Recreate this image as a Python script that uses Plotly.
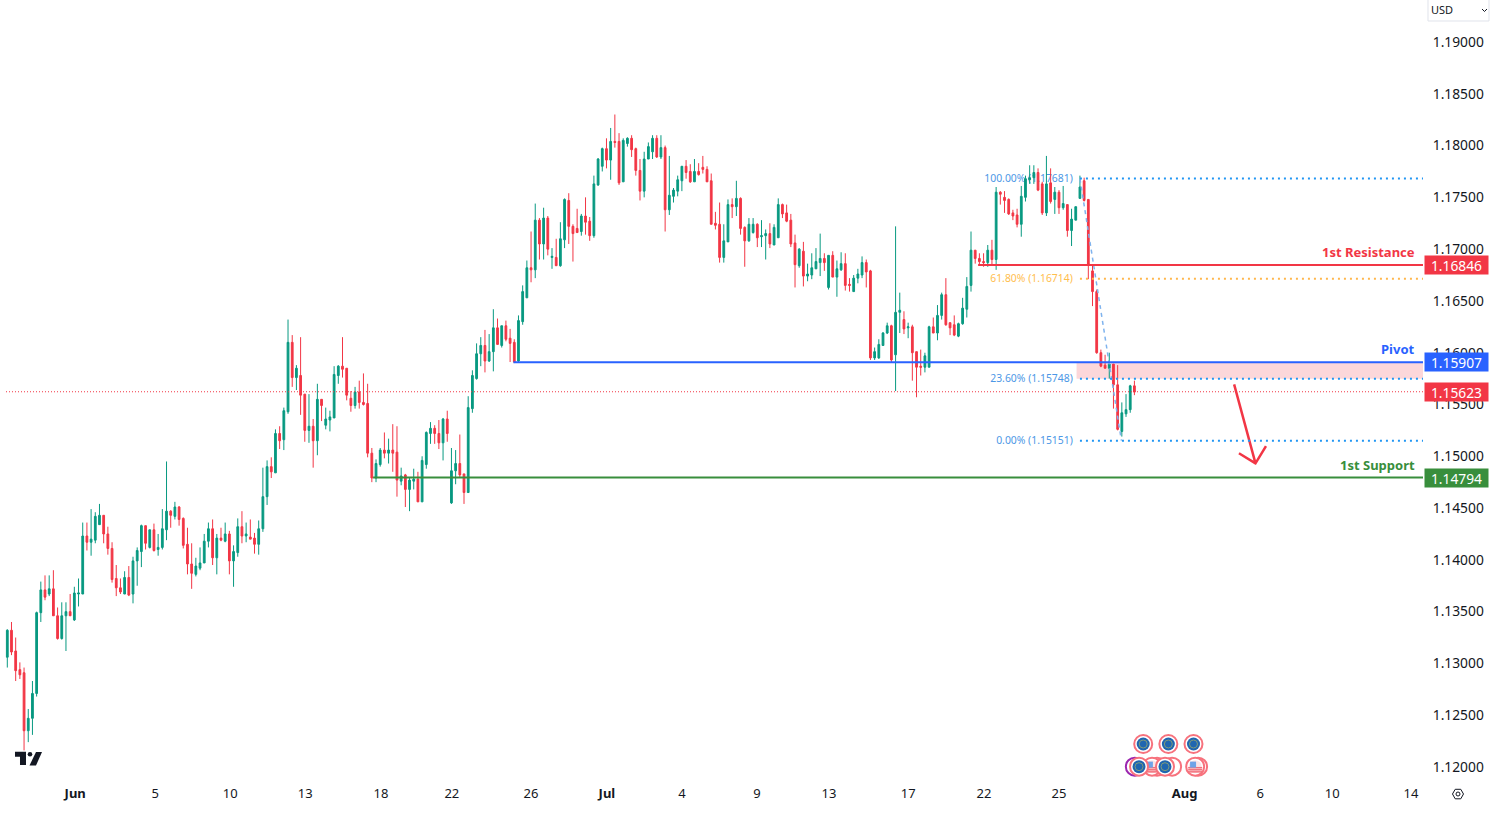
import plotly.graph_objects as go

# EURUSD 4h candles
highs = [
    1.1333,1.1340,1.1325,1.1301,1.1296,1.1256,1.1283,1.1350,1.1379,1.1385,
    1.1385,1.1390,1.1354,1.1359,1.1359,1.1367,1.1374,1.1382,1.1436,1.1436,
    1.1449,1.1446,1.1454,1.1443,1.1432,1.1417,1.1395,1.1382,1.1389,1.1394,
    1.1403,1.1412,1.1434,1.1433,1.1429,1.1435,1.1425,1.1449,1.1495,1.1448,
    1.1456,1.1452,1.1441,1.1431,1.1416,1.1402,1.1412,1.1425,1.1436,1.1439,
    1.1425,1.1431,1.1436,1.1428,1.1414,1.1440,1.1447,1.1436,1.1439,1.1426,
    1.1438,1.1489,1.1496,1.1499,1.1526,1.1529,1.1547,1.1632,1.1617,1.1588,
    1.1615,1.1560,1.1560,1.1536,1.1570,1.1555,1.1547,1.1544,1.1587,1.1588,
    1.1615,1.1585,1.1563,1.1567,1.1573,1.1580,1.1570,1.1508,1.1497,1.1508,
    1.1523,1.1517,1.1531,1.1529,1.1489,1.1483,1.1480,1.1488,1.1485,1.1500,
    1.1524,1.1533,1.1530,1.1535,1.1537,1.1544,1.1508,1.1506,1.1521,1.1483,
    1.1558,1.1583,1.1609,1.1615,1.1622,1.1618,1.1642,1.1633,1.1626,1.1631,
    1.1623,1.1613,1.1636,1.1665,1.1689,1.1717,1.1744,1.1730,1.1740,1.1732,
    1.1701,1.1710,1.1726,1.1749,1.1754,1.1724,1.1739,1.1734,1.1750,1.1731,
    1.1771,1.1788,1.1798,1.1807,1.1817,1.1830,1.1812,1.1807,1.1808,1.1810,
    1.1798,1.1787,1.1794,1.1803,1.1810,1.1810,1.1810,1.1800,1.1790,1.1759,
    1.1771,1.1780,1.1786,1.1782,1.1787,1.1783,1.1790,1.1780,1.1773,1.1736,
    1.1745,1.1724,1.1748,1.1749,1.1766,1.1750,1.1722,1.1730,1.1730,1.1725,
    1.1728,1.1719,1.1725,1.1724,1.1749,1.1744,1.1743,1.1734,1.1714,1.1701,
    1.1707,1.1686,1.1696,1.1701,1.1715,1.1696,1.1694,1.1698,1.1689,1.1697,
    1.1696,1.1672,1.1675,1.1681,1.1693,1.1690,1.1680,1.1605,1.1613,1.1620,
    1.1629,1.1627,1.1722,1.1658,1.1640,1.1629,1.1627,1.1601,1.1603,1.1600,
    1.1626,1.1634,1.1646,1.1658,1.1672,1.1629,1.1636,1.1629,1.1653,1.1673,
    1.1717,1.1699,1.1696,1.1696,1.1704,1.1709,1.1760,1.1756,1.1756,1.1749,
    1.1738,1.1739,1.1761,1.1771,1.1781,1.1781,1.1778,1.1765,1.1790,1.1778,
    1.1760,1.1757,1.1761,1.1743,1.1739,1.1741,1.1771,1.1769,1.1748,1.1685,
    1.1661,1.1603,1.1598,1.1600,1.1589,1.1588,1.1552,1.1560,1.1569,1.1573,
]
lows = [
    1.1296,1.1308,1.1283,1.1285,1.1216,1.1224,1.1231,1.1268,1.1340,1.1361,
    1.1365,1.1346,1.1323,1.1323,1.1312,1.1346,1.1341,1.1355,1.1367,1.1409,
    1.1404,1.1416,1.1434,1.1416,1.1405,1.1378,1.1365,1.1367,1.1367,1.1365,
    1.1358,1.1375,1.1393,1.1410,1.1411,1.1408,1.1404,1.1410,1.1419,1.1431,
    1.1439,1.1433,1.1411,1.1386,1.1372,1.1384,1.1390,1.1397,1.1412,1.1395,
    1.1386,1.1418,1.1417,1.1386,1.1374,1.1403,1.1416,1.1417,1.1420,1.1406,
    1.1405,1.1427,1.1453,1.1479,1.1484,1.1507,1.1506,1.1541,1.1567,1.1564,
    1.1540,1.1514,1.1513,1.1489,1.1501,1.1534,1.1526,1.1524,1.1537,1.1570,
    1.1576,1.1554,1.1543,1.1546,1.1546,1.1549,1.1499,1.1475,1.1475,1.1490,
    1.1498,1.1493,1.1485,1.1461,1.1472,1.1451,1.1447,1.1468,1.1456,1.1456,
    1.1488,1.1512,1.1512,1.1507,1.1496,1.1514,1.1454,1.1473,1.1480,1.1454,
    1.1465,1.1542,1.1574,1.1587,1.1581,1.1591,1.1582,1.1608,1.1605,1.1611,
    1.1591,1.1590,1.1591,1.1627,1.1653,1.1668,1.1672,1.1690,1.1690,1.1694,
    1.1681,1.1684,1.1683,1.1701,1.1705,1.1688,1.1716,1.1713,1.1714,1.1708,
    1.1711,1.1761,1.1775,1.1778,1.1767,1.1798,1.1762,1.1765,1.1799,1.1789,
    1.1771,1.1747,1.1750,1.1787,1.1787,1.1788,1.1787,1.1717,1.1733,1.1745,
    1.1751,1.1756,1.1768,1.1764,1.1765,1.1771,1.1773,1.1765,1.1724,1.1719,
    1.1687,1.1687,1.1707,1.1730,1.1732,1.1714,1.1683,1.1707,1.1715,1.1702,
    1.1702,1.1690,1.1701,1.1704,1.1711,1.1730,1.1726,1.1702,1.1663,1.1682,
    1.1664,1.1669,1.1671,1.1681,1.1674,1.1679,1.1661,1.1673,1.1654,1.1679,
    1.1660,1.1659,1.1659,1.1667,1.1672,1.1663,1.1593,1.1593,1.1594,1.1607,
    1.1618,1.1591,1.1563,1.1619,1.1618,1.1614,1.1573,1.1557,1.1578,1.1581,
    1.1586,1.1619,1.1612,1.1632,1.1626,1.1617,1.1616,1.1615,1.1627,1.1634,
    1.1659,1.1686,1.1684,1.1683,1.1683,1.1685,1.1680,1.1743,1.1735,1.1733,
    1.1728,1.1721,1.1712,1.1746,1.1763,1.1763,1.1756,1.1733,1.1732,1.1744,
    1.1734,1.1734,1.1738,1.1712,1.1703,1.1728,1.1749,1.1746,1.1671,1.1645,
    1.1599,1.1586,1.1585,1.1575,1.1546,1.1525,1.1519,1.1538,1.1542,1.1559,
]
opens = [
    1.1306,1.1332,1.1312,1.1294,1.1291,1.1235,1.1247,1.1271,1.1349,1.1371,
    1.1367,1.1372,1.1346,1.1324,1.1346,1.1350,1.1342,1.1367,1.1367,1.1423,
    1.1417,1.1419,1.1434,1.1443,1.1425,1.1411,1.1382,1.1373,1.1367,1.1383,
    1.1367,1.1399,1.1408,1.1433,1.1412,1.1429,1.1410,1.1412,1.1429,1.1447,
    1.1442,1.1451,1.1440,1.1415,1.1396,1.1386,1.1392,1.1397,1.1418,1.1430,
    1.1402,1.1421,1.1418,1.1425,1.1399,1.1407,1.1432,1.1423,1.1422,1.1421,
    1.1415,1.1430,1.1461,1.1490,1.1484,1.1522,1.1516,1.1543,1.1610,1.1576,
    1.1578,1.1560,1.1525,1.1529,1.1515,1.1555,1.1530,1.1535,1.1537,1.1578,
    1.1587,1.1585,1.1556,1.1549,1.1562,1.1552,1.1551,1.1503,1.1479,1.1492,
    1.1506,1.1503,1.1506,1.1504,1.1476,1.1482,1.1468,1.1476,1.1478,1.1456,
    1.1492,1.1522,1.1527,1.1522,1.1513,1.1536,1.1455,1.1486,1.1493,1.1483,
    1.1465,1.1546,1.1575,1.1599,1.1607,1.1592,1.1601,1.1624,1.1607,1.1626,
    1.1614,1.1610,1.1592,1.1630,1.1653,1.1682,1.1680,1.1728,1.1705,1.1730,
    1.1692,1.1692,1.1684,1.1709,1.1747,1.1722,1.1720,1.1717,1.1732,1.1727,
    1.1713,1.1762,1.1780,1.1797,1.1786,1.1804,1.1804,1.1765,1.1802,1.1807,
    1.1797,1.1776,1.1756,1.1787,1.1794,1.1807,1.1789,1.1798,1.1738,1.1751,
    1.1756,1.1766,1.1780,1.1775,1.1765,1.1775,1.1779,1.1777,1.1766,1.1725,
    1.1724,1.1692,1.1707,1.1743,1.1741,1.1749,1.1721,1.1708,1.1716,1.1724,
    1.1712,1.1713,1.1715,1.1704,1.1711,1.1743,1.1735,1.1728,1.1706,1.1684,
    1.1698,1.1674,1.1675,1.1681,1.1687,1.1691,1.1663,1.1694,1.1673,1.1680,
    1.1686,1.1666,1.1659,1.1672,1.1675,1.1687,1.1679,1.1595,1.1595,1.1607,
    1.1619,1.1626,1.1598,1.1639,1.1632,1.1624,1.1625,1.1601,1.1587,1.1586,
    1.1586,1.1625,1.1619,1.1636,1.1656,1.1629,1.1627,1.1616,1.1628,1.1642,
    1.1665,1.1699,1.1691,1.1688,1.1687,1.1699,1.1690,1.1755,1.1750,1.1748,
    1.1735,1.1733,1.1724,1.1750,1.1767,1.1769,1.1774,1.1763,1.1735,1.1764,
    1.1748,1.1755,1.1740,1.1743,1.1718,1.1728,1.1749,1.1766,1.1748,1.1679,
    1.1659,1.1600,1.1588,1.1585,1.1589,1.1569,1.1524,1.1541,1.1545,1.1568,
]
closes = [
    1.1332,1.1311,1.1293,1.1289,1.1235,1.1247,1.1271,1.1349,1.1371,1.1364,
    1.1372,1.1346,1.1324,1.1346,1.1350,1.1346,1.1368,1.1368,1.1423,1.1417,
    1.1420,1.1442,1.1443,1.1425,1.1411,1.1381,1.1373,1.1369,1.1383,1.1366,
    1.1399,1.1409,1.1433,1.1416,1.1429,1.1409,1.1412,1.1430,1.1447,1.1443,
    1.1451,1.1439,1.1414,1.1396,1.1387,1.1394,1.1397,1.1418,1.1430,1.1402,
    1.1421,1.1419,1.1425,1.1399,1.1408,1.1432,1.1423,1.1425,1.1420,1.1415,
    1.1430,1.1461,1.1490,1.1485,1.1522,1.1515,1.1544,1.1610,1.1576,1.1585,
    1.1559,1.1525,1.1529,1.1515,1.1555,1.1549,1.1536,1.1538,1.1579,1.1587,
    1.1584,1.1559,1.1549,1.1562,1.1552,1.1550,1.1503,1.1479,1.1493,1.1506,
    1.1503,1.1506,1.1503,1.1477,1.1481,1.1468,1.1477,1.1478,1.1456,1.1496,
    1.1523,1.1527,1.1522,1.1513,1.1536,1.1522,1.1486,1.1493,1.1482,1.1465,
    1.1547,1.1578,1.1599,1.1607,1.1592,1.1601,1.1624,1.1608,1.1626,1.1613,
    1.1609,1.1591,1.1631,1.1659,1.1682,1.1680,1.1728,1.1705,1.1730,1.1700,
    1.1693,1.1684,1.1710,1.1748,1.1722,1.1715,1.1716,1.1732,1.1726,1.1713,
    1.1763,1.1787,1.1797,1.1786,1.1804,1.1803,1.1764,1.1805,1.1807,1.1796,
    1.1776,1.1756,1.1787,1.1799,1.1807,1.1789,1.1798,1.1738,1.1752,1.1757,
    1.1767,1.1780,1.1774,1.1765,1.1775,1.1772,1.1777,1.1765,1.1724,1.1723,
    1.1692,1.1708,1.1743,1.1741,1.1749,1.1720,1.1708,1.1724,1.1724,1.1711,
    1.1713,1.1715,1.1705,1.1721,1.1743,1.1734,1.1727,1.1705,1.1685,1.1700,
    1.1674,1.1676,1.1682,1.1688,1.1691,1.1687,1.1694,1.1673,1.1681,1.1686,
    1.1665,1.1665,1.1672,1.1676,1.1687,1.1678,1.1595,1.1601,1.1608,1.1619,
    1.1626,1.1593,1.1639,1.1641,1.1623,1.1625,1.1600,1.1586,1.1586,1.1597,
    1.1625,1.1619,1.1636,1.1656,1.1627,1.1624,1.1617,1.1628,1.1643,1.1664,
    1.1699,1.1691,1.1688,1.1687,1.1699,1.1690,1.1755,1.1753,1.1747,1.1734,
    1.1732,1.1724,1.1751,1.1768,1.1769,1.1774,1.1757,1.1735,1.1763,1.1746,
    1.1755,1.1740,1.1744,1.1718,1.1729,1.1741,1.1760,1.1747,1.1685,1.1659,
    1.1600,1.1587,1.1585,1.1589,1.1569,1.1526,1.1542,1.1545,1.1568,1.1562,
]

date_ticks = [16.2, 35.3, 53.2, 71.1, 89.2, 106.1, 125, 143.1, 161, 178.9, 196.1, 215, 233.1, 251, 281, 299, 316.2, 335]
date_labels = ["<b>Jun</b>", "5", "10", "13", "18", "22", "26", "<b>Jul</b>", "4", "9", "13", "17", "22", "25", "<b>Aug</b>", "6", "10", "14"]
price_ticks = [1.12, 1.125, 1.13, 1.135, 1.14, 1.145, 1.15, 1.155, 1.16, 1.165, 1.17, 1.175, 1.18, 1.185, 1.19]

resistance = 1.16846
pivot = 1.15907
support = 1.14794
last_price = 1.15623
resistance_start = 231.7
pivot_start = 120.8
support_start = 87.3
last_price_start = -0.31

fib_start = 256
fib_end = 265.9
fib_label_x = 254.3
fib_levels = [1.17681, 1.16714, 1.15748, 1.15151]
fib_labels = ["100.00% (1.17681)", "61.80% (1.16714)", "23.60% (1.15748)", "0.00% (1.15151)"]
fib_colors = ["#4C97E6", "#FFBE4D", "#4C97E6", "#4C97E6"]

arrow_x = [292.8, 297.9, 293.95, 297.9, 300.4]
arrow_y = [1.15695, 1.14932, 1.15029, 1.14932, 1.15099]

# economic calendar badges, back to front
event_x = [271.1, 277.1, 283.1, 269.1, 274.4, 273.2, 270.1, 278.0, 276.3, 284.2, 283.5]
event_y = [1.12222, 1.12222, 1.12222, 1.12003, 1.12003, 1.12003, 1.12003, 1.12003, 1.12003, 1.12003, 1.12003]
event_kind = ["eu", "eu", "eu", "ring", "us", "us", "eu", "ring_red", "eu", "ring_red", "us"]

GREEN = "#089981"
RED = "#F23645"
BLUE = "#2962FF"
DARK_GREEN = "#388E3C"
TEXT = "#131722"
FONT = "Noto Sans"

W_PLOT = 1423
H_PLOT = 780
x_range = [-7.3 / 4.19, (W_PLOT - 7.3) / 4.19]
y_range = [1.19 - (H_PLOT - 42) / 10357, 1.19 + 42 / 10357]


def px(x):
    return x / W_PLOT


def py(y):
    return 1 - y / H_PLOT


def poly(points, close=True):
    path = "M " + " L ".join(f"{px(a):.5f},{py(b):.5f}" for a, b in points)
    return path + (" Z" if close else "")


def badge_marker(x, y, **marker):
    return go.Scatter(x=[x], y=[y], mode="markers", xaxis="x2", yaxis="y2",
                      hoverinfo="skip", marker=marker)


fig = go.Figure()

# fib texts sit on the base axes so that the candles cover them
fig.add_trace(go.Scatter(
    x=[fib_label_x] * 4, y=[v - 0.0001 for v in fib_levels], text=fib_labels, mode="text",
    textposition="middle left", textfont=dict(size=10.4, color=fib_colors, family=FONT),
    hoverinfo="skip",
))

fig.add_trace(go.Candlestick(
    x=list(range(len(opens))), open=opens, high=highs, low=lows, close=closes,
    xaxis="x2", yaxis="y2", whiskerwidth=0,
    increasing=dict(line=dict(color=GREEN, width=1), fillcolor=GREEN),
    decreasing=dict(line=dict(color=RED, width=1), fillcolor=RED),
))

fig.add_trace(go.Scatter(
    x=arrow_x, y=arrow_y, mode="lines", xaxis="x2", yaxis="y2",
    line=dict(color=RED, width=2.5), hoverinfo="skip",
))

for ex, ey, kind in zip(event_x, event_y, event_kind):
    ring = "#9C27B0" if kind == "ring" else "#F7727D"
    fig.add_trace(badge_marker(ex, ey, size=18, color="white", line=dict(color=ring, width=2)))
    if kind == "eu":
        fig.add_trace(badge_marker(ex, ey, size=13, color="#1F66B0"))
        fig.add_trace(badge_marker(ex, ey, size=8, color="rgba(0,0,0,0)",
                                   line=dict(color="#7F9A7A", width=1)))
    elif kind == "us":
        fig.add_trace(badge_marker(ex, ey, size=13, color="#FBE3E5"))
        for off in (-0.0001, -0.0003, -0.0005):
            fig.add_trace(badge_marker(ex, ey + off, size=10, symbol="line-ew",
                                       line=dict(color="#F2707B", width=1.5)))
        fig.add_trace(badge_marker(ex - 0.5, ey + 0.0002, size=6, color="#6FA3E8", symbol="square"))

shapes = [
    # red zone under the pivot
    dict(type="rect", xref="x", yref="y", x0=255.2, x1=x_range[1], y0=fib_levels[2], y1=pivot,
         fillcolor="rgba(242,54,69,0.2)", line=dict(width=0), layer="below"),
    # fib trend line
    dict(type="line", xref="x", yref="y", x0=fib_start, x1=fib_end, y0=fib_levels[0], y1=fib_levels[3],
         line=dict(color="#7FB3EE", width=1.5, dash="4px,4px"), layer="above"),
    # current price
    dict(type="line", xref="x", yref="y", x0=last_price_start, x1=x_range[1], y0=last_price, y1=last_price,
         line=dict(color=RED, width=1, dash="1px,2px")),
    dict(type="line", xref="x", yref="y", x0=resistance_start, x1=x_range[1], y0=resistance, y1=resistance,
         line=dict(color=RED, width=2)),
    dict(type="line", xref="x", yref="y", x0=pivot_start, x1=x_range[1], y0=pivot, y1=pivot,
         line=dict(color=BLUE, width=2)),
    dict(type="line", xref="x", yref="y", x0=support_start, x1=x_range[1], y0=support, y1=support,
         line=dict(color=DARK_GREEN, width=2)),
]
for level, color in zip(fib_levels, fib_colors):
    shapes.append(dict(type="line", xref="x", yref="y", x0=fib_start, x1=x_range[1], y0=level, y1=level,
                       line=dict(color="#FFB74D" if color == "#FFBE4D" else "#2196F3", width=2, dash="2px,4px")))

# TradingView logo
shapes.append(dict(type="path", xref="paper", yref="paper", fillcolor=TEXT, line=dict(width=0),
                   path=poly([(15, 751.7), (26, 751.7), (26, 765), (20, 765), (20, 756.7), (15, 756.7)])))
shapes.append(dict(type="path", xref="paper", yref="paper", fillcolor=TEXT, line=dict(width=0),
                   path=poly([(36, 752), (42, 752), (36, 765.5), (29.5, 765.5)])))
shapes.append(dict(type="circle", xref="paper", yref="paper", fillcolor=TEXT, line=dict(width=0),
                   x0=px(27.7), x1=px(32.3), y0=py(756.6), y1=py(752)))

# currency selector box and chevron
shapes.append(dict(type="path", xref="paper", yref="paper", line=dict(color="#E0E3EB", width=1),
                   path=poly([(1428, -2), (1428, 21), (1489, 21), (1489, -2)], close=False)))
shapes.append(dict(type="path", xref="paper", yref="paper", line=dict(color=TEXT, width=1),
                   path=poly([(1482, 9), (1484.5, 11.5), (1487, 9)], close=False)))

# settings hexagon
shapes.append(dict(type="path", xref="paper", yref="paper", line=dict(color=TEXT, width=1),
                   path=poly([(1452.5, 794), (1455.2, 789.3), (1460.8, 789.3), (1463.5, 794), (1460.8, 798.8), (1455.2, 798.8)])))
shapes.append(dict(type="circle", xref="paper", yref="paper", line=dict(color=TEXT, width=1),
                   x0=px(1456), x1=px(1460), y0=py(796), y1=py(792)))

annotations = []
for price, text, color in [
    (resistance, "1.16846", RED),
    (pivot, "1.15907", BLUE),
    (last_price, "1.15623", RED),
    (support, "1.14794", DARK_GREEN),
]:
    annotations.append(dict(
        xref="paper", yref="y", x=px(1424), y=price, xanchor="left", yanchor="middle",
        text=text, showarrow=False, bgcolor=color, width=63, height=18, align="center",
        font=dict(color="white", size=13.8, family=FONT), borderpad=0,
    ))
for price, text, color in [
    (resistance, "1st Resistance", RED),
    (pivot, "Pivot", BLUE),
    (support, "1st Support", DARK_GREEN),
]:
    annotations.append(dict(
        xref="paper", yref="y", x=px(1417), y=price, xanchor="right", yanchor="bottom", yshift=2,
        text=f"<b>{text}</b>", showarrow=False, font=dict(color=color, size=13, family=FONT),
    ))
annotations.append(dict(
    xref="paper", yref="paper", x=px(1428.5), y=py(10), xanchor="left", yanchor="middle",
    text="USD", showarrow=False, font=dict(color=TEXT, size=11, family=FONT),
))

fig.update_layout(
    width=1497, height=816,
    margin=dict(l=0, r=74, t=0, b=36),
    paper_bgcolor="white", plot_bgcolor="white",
    showlegend=False, boxgap=0.4, hovermode=False,
    font=dict(family=FONT, color=TEXT, size=13),
    shapes=shapes, annotations=annotations,
    xaxis=dict(range=x_range, showgrid=False, zeroline=False, showline=False,
               tickmode="array", tickvals=date_ticks, ticktext=date_labels,
               ticks="", ticklabelstandoff=4, tickfont=dict(size=13)),
    yaxis=dict(range=y_range, side="right", showgrid=False, zeroline=False, showline=False,
               tickmode="array", tickvals=price_ticks, tickformat=".5f",
               ticks="outside", ticklen=6, tickcolor="rgba(0,0,0,0)", tickfont=dict(size=13.8)),
    xaxis2=dict(range=x_range, overlaying="x", anchor="y2", visible=False, rangeslider=dict(visible=False)),
    yaxis2=dict(range=y_range, overlaying="y", anchor="x2", visible=False),
)

fig.write_html("out.html", config={"displayModeBar": False},
               post_script="document.body.style.margin='0';document.body.style.overflow='hidden';")
